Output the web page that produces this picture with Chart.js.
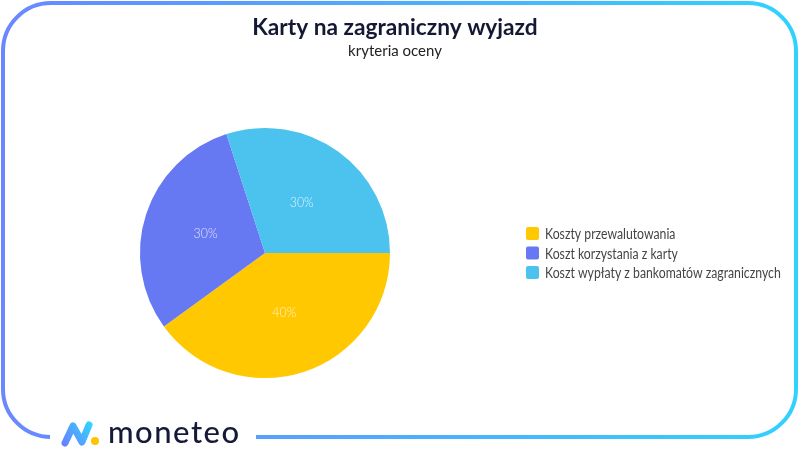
<!DOCTYPE html>
<html>
<head>
<meta charset="utf-8">
<script src="https://cdn.jsdelivr.net/npm/chart.js@4"></script>
<style>
  html, body { margin: 0; padding: 0; background: #fff; }
  canvas { display: block; }
</style>
</head>
<body>
<canvas id="chart" width="800" height="450"></canvas>
<script>
const titleText = "Karty na zagraniczny wyjazd";
const subtitleText = "kryteria oceny";
const labels = ["Koszty przewalutowania", "Koszt korzystania z karty", "Koszt wypłaty z bankomatów zagranicznych"];
const values = [40, 30, 30];
const colors = ["#FFC800", "#6679F2", "#4BC3EE"];

// frame, headings + logo
const framePlugin = {
  id: "frame",
  beforeDraw(chart) {
    const ctx = chart.ctx;
    ctx.save();
    ctx.fillStyle = "#fff";
    ctx.fillRect(0, 0, chart.width, chart.height);
    ctx.textAlign = "center";
    ctx.textBaseline = "middle";
    ctx.fillStyle = "#141833";
    ctx.font = "bold 22.7px Lato";
    ctx.fillText(titleText, 395, 28);
    ctx.fillStyle = "#222";
    ctx.font = "15px Lato";
    ctx.fillText(subtitleText, 395, 51);
    ctx.restore();
  },
  afterDraw(chart) {
    const ctx = chart.ctx;
    ctx.save();
    const g = ctx.createLinearGradient(0, 0, 800, 0);
    g.addColorStop(0, "#6B87FF");
    g.addColorStop(1, "#30D2FF");
    ctx.strokeStyle = g;
    ctx.lineWidth = 4;
    ctx.beginPath();
    ctx.roundRect(3, 3, 793, 434, 48);
    ctx.stroke();
    // gap for logo
    ctx.fillStyle = "#fff";
    ctx.fillRect(50, 428, 206, 20);

    // icon
    const ig = ctx.createLinearGradient(62, 446, 92, 422);
    ig.addColorStop(0, "#6B7CFF");
    ig.addColorStop(1, "#2FD8FF");
    ctx.strokeStyle = ig;
    ctx.lineWidth = 7;
    ctx.lineJoin = "round";
    ctx.lineCap = "round";
    ctx.beginPath();
    ctx.moveTo(65, 443);
    ctx.lineTo(73, 426);
    ctx.lineTo(82, 442);
    ctx.lineTo(89, 425);
    ctx.stroke();
    ctx.fillStyle = "#FFC400";
    ctx.beginPath();
    ctx.arc(95, 441, 4, 0, Math.PI * 2);
    ctx.fill();

    ctx.fillStyle = "#151A3A";
    ctx.font = "500 31px Lato";
    ctx.letterSpacing = "1.5px";
    ctx.fillText("moneteo", 108, 443);
    ctx.restore();
  }
};

// legend on the right, drawn with slightly narrowed text
const sideLegend = {
  id: "sideLegend",
  afterDraw(chart) {
    const ctx = chart.ctx;
    const area = chart.chartArea;
    const cy = (area.top + area.bottom) / 2;
    const step = 19.5;
    ctx.save();
    ctx.textBaseline = "middle";
    labels.forEach((label, i) => {
      const y = cy + (i - (labels.length - 1) / 2) * step;
      ctx.fillStyle = colors[i];
      ctx.beginPath();
      ctx.roundRect(526, y - 6.5, 13, 13, 2);
      ctx.fill();
      ctx.save();
      ctx.translate(545, y);
      ctx.scale(0.79, 1);
      ctx.fillStyle = "#444";
      ctx.font = "15.5px Lato";
      ctx.fillText(label, 0, 0.5);
      ctx.restore();
    });
    ctx.restore();
  }
};

// percent labels inside slices
const sliceLabels = {
  id: "sliceLabels",
  afterDatasetsDraw(chart) {
    const ctx = chart.ctx;
    const meta = chart.getDatasetMeta(0);
    ctx.save();
    ctx.fillStyle = "rgba(255,255,255,0.8)";
    ctx.textAlign = "center";
    ctx.textBaseline = "middle";
    meta.data.forEach((arc, i) => {
      const p = arc.tooltipPosition();
      ctx.save();
      ctx.translate(p.x, p.y);
      ctx.scale(0.85, 1);
      ctx.font = "300 14.5px Lato";
      ctx.fillText(values[i] + "%", 0, 0);
      ctx.restore();
    });
    ctx.restore();
  }
};

new Chart(document.getElementById("chart"), {
  type: "pie",
  data: {
    labels: labels,
    datasets: [{
      data: values,
      backgroundColor: colors,
      borderWidth: 0
    }]
  },
  options: {
    responsive: false,
    animation: false,
    rotation: 90,
    layout: { padding: { left: 0, right: 270, top: 128, bottom: 72 } },
    plugins: {
      tooltip: { enabled: false },
      legend: { display: false },
      title: { display: false }
    }
  },
  plugins: [framePlugin, sideLegend, sliceLabels]
});
</script>
</body>
</html>
